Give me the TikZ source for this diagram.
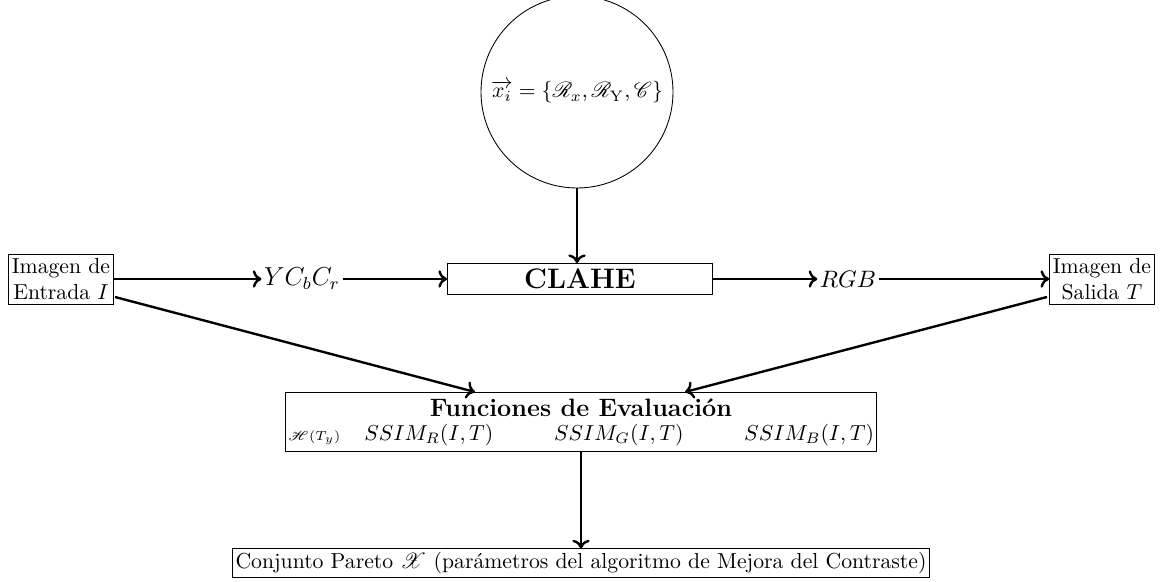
\documentclass[tikz,border=0pt]{standalone}
\usepackage{amsmath,amssymb}
\usepackage{mathrsfs}
\usetikzlibrary{arrows.meta}
\begin{document}
\begin{tikzpicture}[x=0.0162cm,y=-0.0162cm,
  box/.style={draw,inner sep=1.5pt,align=center},
  conn/.style={line width=1.1pt,-{To[length=4pt,width=8pt]}},
  lab/.style={inner sep=1pt}]
\useasboundingbox (0,0) rectangle (1165,582);
\node[draw,circle,minimum size=192*0.0162cm,inner sep=0pt] (params) at (577,92) {$\overrightarrow{x_i}=\{\mathscr{R}_x,\mathscr{R}_{\mathrm{Y}},\mathscr{C}\}$};
\node[box,minimum width=265*0.0162cm,minimum height=31*0.0162cm] (clahe) at (580,279) {\fontsize{13}{15}\selectfont\bfseries CLAHE};
\node[box,minimum height=50*0.0162cm] (in) at (61,279) {Imagen de\\Entrada $I$};
\node[box,minimum height=50*0.0162cm] (out) at (1102,279) {Imagen de\\Salida $T$};
\node[lab] (ycc) at (302,279) {\large$YC_bC_r$};
\node[lab] (rgb) at (848,279) {\fontsize{11.3}{13}\selectfont$RGB$};
\node[box,minimum width=588*0.0162cm,minimum height=59*0.0162cm,inner sep=1pt] (eval) at (581,422) {{\fontsize{11.6}{13}\selectfont\bfseries Funciones de Evaluaci\'on}\\[-1pt]
  \fontsize{9.8}{11}\selectfont{\fontsize{6.3}{7}\selectfont$\mathscr{H}(T_y)$}\hspace{11pt}$SSIM_R(I,T)$\hspace{28pt}$SSIM_G(I,T)$\hspace{28pt}$SSIM_B(I,T)$};
\node[box] (pareto) at (581,563) {Conjunto Pareto $\mathscr{X}$ (par\'ametros del algoritmo de Mejora del Contraste)};
\coordinate (inse) at (115,297);
\coordinate (outsw) at (1047,297);
\coordinate (evl) at (475,392);
\coordinate (evr) at (685,392);
\draw[conn] (in) -- (ycc);
\draw[conn] (ycc) -- (clahe);
\draw[conn] (clahe) -- (rgb);
\draw[conn] (rgb) -- (out);
\draw[conn] (params.south) -- (params.south |- clahe.north);
\draw[conn] (inse) -- (evl);
\draw[conn] (outsw) -- (evr);
\draw[conn] (eval) -- (pareto);
\end{tikzpicture}
\end{document}
